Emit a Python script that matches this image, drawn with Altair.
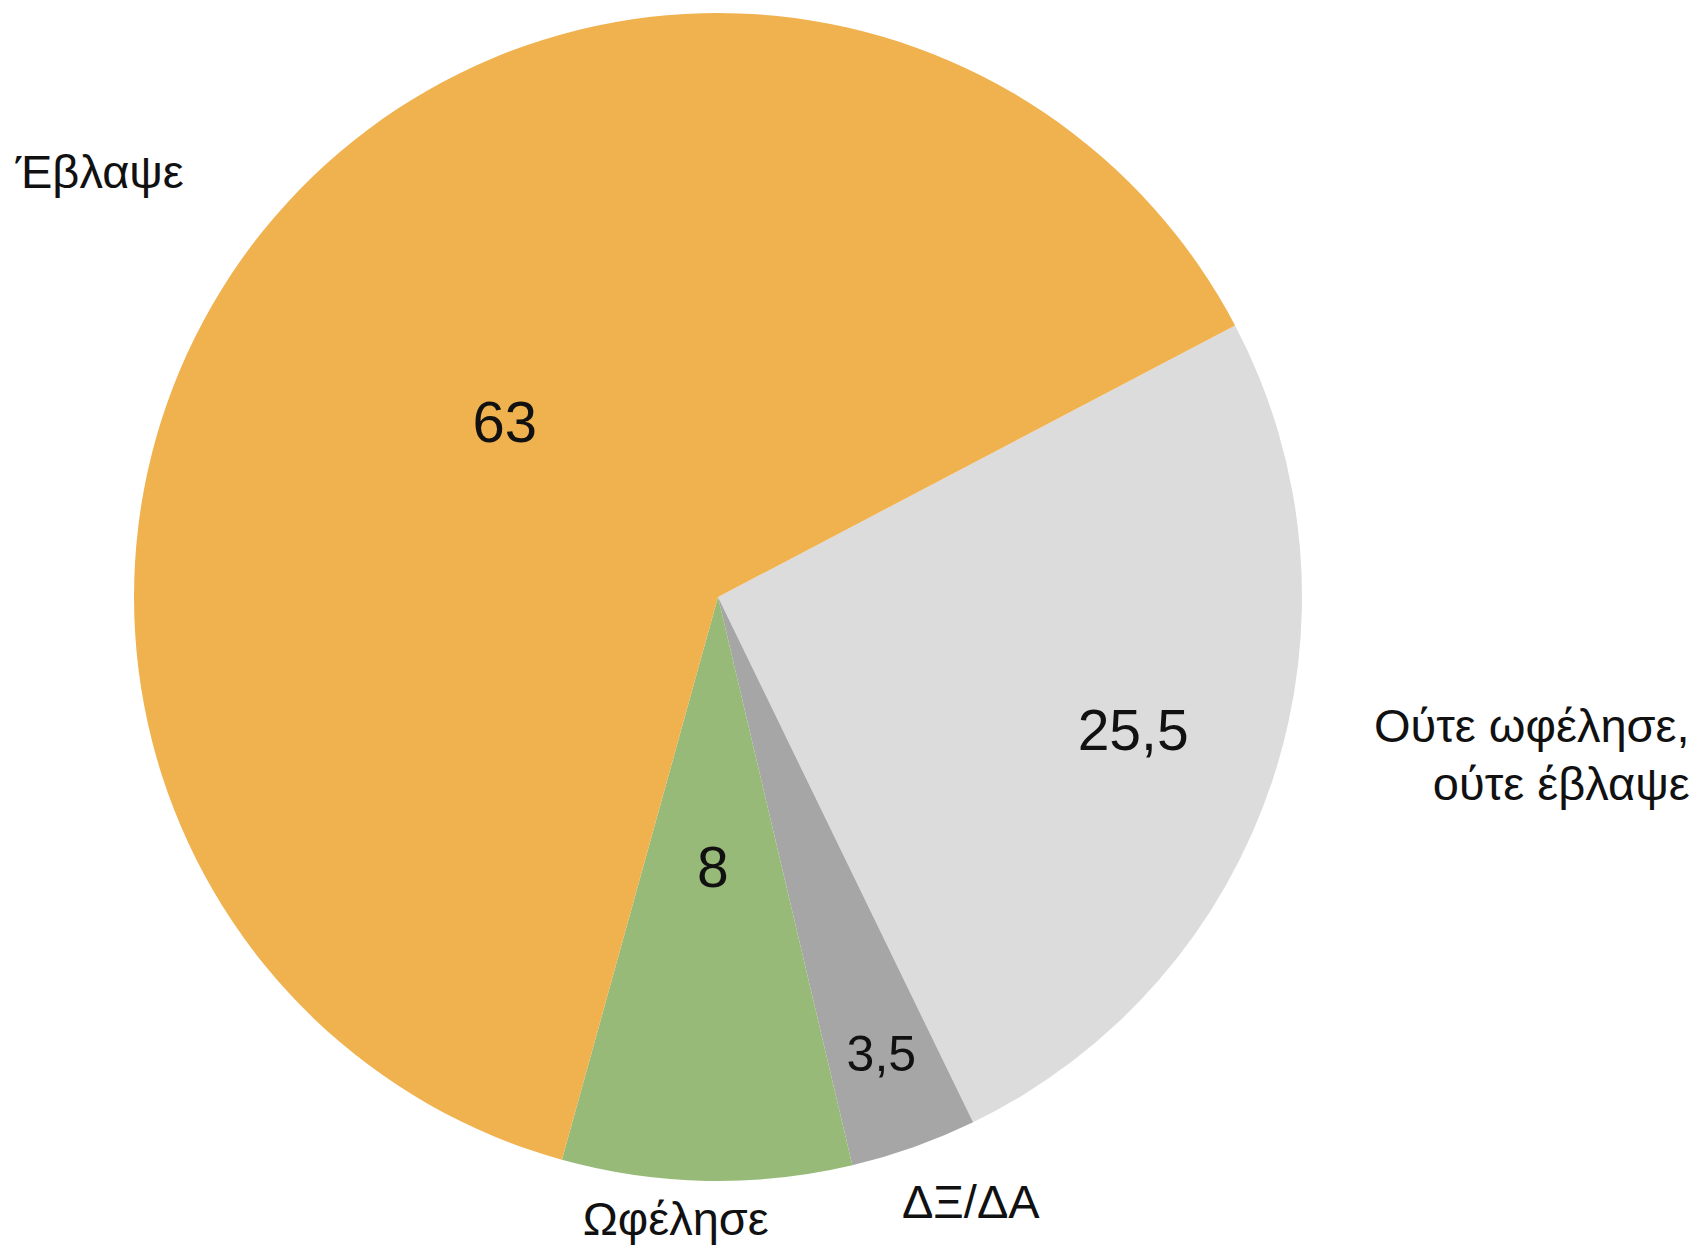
import math
import altair as alt
import pandas as pd

# Data (clockwise order starting at the orange/grey boundary)
categories = ["Ούτε ωφέλησε, ούτε έβλαψε", "ΔΞ/ΔΑ", "Ωφέλησε", "Έβλαψε"]
label_texts = ["Ούτε ωφέλησε,\nούτε έβλαψε", "ΔΞ/ΔΑ", "Ωφέλησε", "Έβλαψε"]
values = [25.5, 3.5, 8, 63]
value_texts = ["25,5", "3,5", "8", "63"]
colors = ["#DCDCDC", "#A6A6A6", "#97BA78", "#EFB24F"]

df = pd.DataFrame({
    "cat": categories,
    "label": label_texts,
    "value": values,
    "vtext": value_texts,
    "idx": list(range(len(categories))),
})
total = sum(values)

start = math.radians(62.3)
theta_scale = alt.Scale(domain=[0, total], range=[start, start + 2 * math.pi])
color_scale = alt.Scale(domain=categories, range=colors)

FONT = "Liberation Sans"
R = 584

base = alt.Chart(df)

pie = base.mark_arc(radius=R, stroke=None).encode(
    theta=alt.Theta("value:Q", stack=True, scale=theta_scale),
    color=alt.Color("cat:N", scale=color_scale, legend=None),
    order=alt.Order("idx:Q", sort="ascending"),
)

mid_base = base.transform_window(
    cum="sum(value)", sort=[alt.SortField("idx", order="ascending")]
).transform_calculate(mid="datum.cum - datum.value / 2")

# value labels: (radius, fontSize)
value_place = {
    "Έβλαψε": (274, 58),
    "Ούτε ωφέλησε, ούτε έβλαψε": (437, 57),
    "Ωφέλησε": (273, 57),
    "ΔΞ/ΔΑ": (487, 50),
}
# category labels: (radius, dx, dy, align)
label_place = {
    "Έβλαψε": (738, -44, 54, "center"),
    "Ούτε ωφέλησε, ούτε έβλαψε": (967, 53, -157, "right"),
    "Ωφέλησε": (639, -30, -1, "center"),
    "ΔΞ/ΔΑ": (670, 28, -10, "center"),
}

layers = [pie]
for cat in categories:
    r, fs = value_place[cat]
    layers.append(
        mid_base.transform_filter(alt.datum.cat == cat).mark_text(
            radius=r, font=FONT, fontSize=fs, color="#111111",
            align="center", baseline="middle",
        ).encode(
            theta=alt.Theta("mid:Q", scale=theta_scale),
            text="vtext:N",
        )
    )
    r, dx, dy, al = label_place[cat]
    layers.append(
        mid_base.transform_filter(alt.datum.cat == cat).mark_text(
            radius=r, dx=dx, dy=dy, font=FONT, fontSize=47, color="#111111",
            align=al, baseline="alphabetic", lineBreak="\n", lineHeight=58,
        ).encode(
            theta=alt.Theta("mid:Q", scale=theta_scale),
            text="label:N",
        )
    )

chart = alt.layer(*layers).properties(
    width=1420, height=1178,
    autosize=alt.AutoSizeParams(type="none"),
    padding={"left": 0, "top": 0, "right": 264, "bottom": 62},
).configure_view(stroke=None)

chart.save("out.html", embed_options={"renderer": "svg", "actions": False})
